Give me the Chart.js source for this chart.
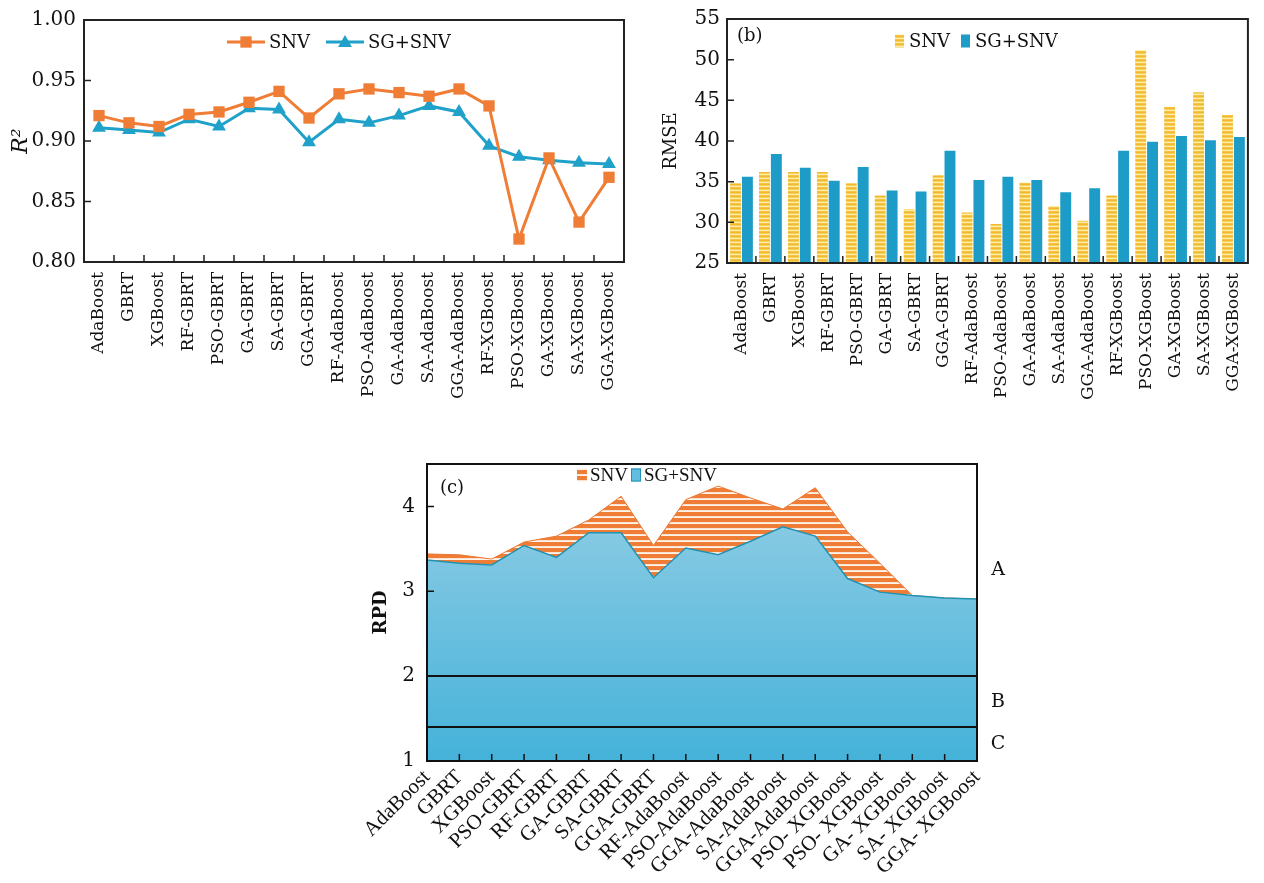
<!DOCTYPE html>
<html>
<head>
<meta charset="utf-8">
<script src="https://cdn.jsdelivr.net/npm/chart.js@4.4.1/dist/chart.umd.min.js"></script>
<style>
  html, body { margin: 0; padding: 0; background: #fff; width: 1264px; height: 883px; overflow: hidden; }
  canvas { position: absolute; }
  #r2Chart { left: 0; top: 0; }
  #rmseChart { left: 640px; top: 0; }
  #rpdChart { left: 340px; top: 440px; }
</style>
</head>
<body>
<canvas id="r2Chart" width="640" height="410"></canvas>
<canvas id="rmseChart" width="624" height="410"></canvas>
<canvas id="rpdChart" width="700" height="443"></canvas>
<script>
// ---- data -------------------------------------------------------------
const models = ['AdaBoost', 'GBRT', 'XGBoost', 'RF-GBRT', 'PSO-GBRT', 'GA-GBRT', 'SA-GBRT', 'GGA-GBRT',
  'RF-AdaBoost', 'PSO-AdaBoost', 'GA-AdaBoost', 'SA-AdaBoost', 'GGA-AdaBoost',
  'RF-XGBoost', 'PSO-XGBoost', 'GA-XGBoost', 'SA-XGBoost', 'GGA-XGBoost'];

const r2SNV   = [0.921, 0.915, 0.912, 0.922, 0.924, 0.932, 0.941, 0.919, 0.939, 0.943, 0.940, 0.937, 0.943, 0.929, 0.819, 0.886, 0.833, 0.870];
const r2SGSNV = [0.911, 0.909, 0.907, 0.918, 0.912, 0.927, 0.926, 0.899, 0.918, 0.915, 0.921, 0.929, 0.924, 0.896, 0.887, 0.884, 0.882, 0.881];
const r2Ticks = [0.80, 0.85, 0.90, 0.95, 1.00];

const rmseSNV   = [34.8, 36.2, 36.2, 36.2, 34.8, 33.3, 31.6, 35.8, 31.2, 29.8, 34.9, 32.0, 30.2, 33.3, 51.2, 44.2, 46.0, 43.2];
const rmseSGSNV = [35.6, 38.4, 36.7, 35.1, 36.8, 33.9, 33.8, 38.8, 35.2, 35.6, 35.2, 33.7, 34.2, 38.8, 39.9, 40.6, 40.1, 40.5];
const rmseTicks = [25, 30, 35, 40, 45, 50, 55];

const rpdModels = ['AdaBoost', 'GBRT', 'XGBoost', 'PSO-GBRT', 'RF-GBRT', 'GA-GBRT', 'SA-GBRT', 'GGA-GBRT',
  'RF-AdaBoost', 'PSO-AdaBoost', 'GGA-AdaBoost', 'SA-AdaBoost', 'GGA-AdaBoost',
  'PSO- XGBoost', 'PSO- XGBoost', 'GA- XGBoost', 'SA- XGBoost', 'GGA- XGBoost'];
const rpdSNV   = [3.44, 3.43, 3.38, 3.58, 3.65, 3.84, 4.12, 3.54, 4.08, 4.24, 4.10, 3.97, 4.22, 3.70, 3.33, 2.95, 2.92, 2.91];
const rpdSGSNV = [3.37, 3.33, 3.31, 3.54, 3.40, 3.69, 3.69, 3.16, 3.51, 3.43, 3.59, 3.76, 3.65, 3.15, 2.99, 2.95, 2.92, 2.91];
const rpdTicks = [1, 2, 3, 4];
const rpdLimits = [2, 1.4];          // class boundaries
const rpdGrades = ['A', 'B', 'C'];   // classes above, between and below them

// ---- styling helpers --------------------------------------------------
const SERIF = '"DejaVu Serif", serif';
const TIMES = '"Liberation Serif", serif';
const INK = '#111';
const ORANGE = '#ef7d36';
const BLUE = '#1fa1c9';
const BAR_BLUE = '#1c9cc6';

Chart.defaults.font.family = SERIF;
Chart.defaults.color = INK;

function stripes(canvasEl, rows) {
  const c = document.createElement('canvas');
  c.width = 4; c.height = rows.length;
  const g = c.getContext('2d');
  rows.forEach((col, i) => { g.fillStyle = col; g.fillRect(0, i, 4, 1); });
  return canvasEl.getContext('2d').createPattern(c, 'repeat');
}

// plot frame, inward tick marks and horizontal reference lines
const framePlugin = {
  id: 'frame',
  afterDatasetsDraw(chart, args, o) {
    const { ctx, chartArea: a } = chart;
    const x = chart.scales.x, y = chart.scales.y;
    ctx.save();
    ctx.strokeStyle = o.color || INK;
    ctx.lineWidth = o.width || 2;
    ctx.beginPath();
    (o.lines || []).forEach(v => {
      const py = Math.round(y.getPixelForValue(v));
      ctx.moveTo(a.left, py); ctx.lineTo(a.right, py);
    });
    ctx.stroke();
    ctx.strokeRect(a.left, a.top, a.right - a.left, a.bottom - a.top);
    ctx.lineWidth = o.tickWidth || 1.5;
    ctx.beginPath();
    const n = x.ticks.length;
    if (o.between) {
      for (let i = 1; i < n; i++) {
        const px = (x.getPixelForTick(i - 1) + x.getPixelForTick(i)) / 2;
        ctx.moveTo(px, a.bottom); ctx.lineTo(px, a.bottom - o.tickLen);
      }
    } else {
      for (let i = 1; i < n - 1; i++) {
        const px = x.getPixelForTick(i);
        ctx.moveTo(px, a.bottom); ctx.lineTo(px, a.bottom - o.tickLen);
      }
    }
    y.ticks.forEach(t => {
      const py = y.getPixelForValue(t.value);
      ctx.moveTo(a.left, py); ctx.lineTo(a.left + o.tickLen, py);
    });
    ctx.stroke();
    ctx.restore();
  }
};

// key drawn inside the plot area, plus the panel tag and side labels
const keyPlugin = {
  id: 'key',
  afterDraw(chart, args, o) {
    const { ctx, chartArea: a } = chart;
    ctx.save();
    ctx.textBaseline = 'middle';
    ctx.textAlign = 'left';
    o.items.forEach((it, i) => {
      const ds = chart.data.datasets[i];
      const cx = a.left + it.x, cy = a.top + o.y;
      let textX;
      if (o.kind === 'line') {
        ctx.strokeStyle = ds.borderColor; ctx.lineWidth = ds.borderWidth;
        ctx.beginPath(); ctx.moveTo(cx, cy); ctx.lineTo(cx + o.iconW, cy); ctx.stroke();
        ctx.fillStyle = ds.pointBackgroundColor;
        Chart.helpers.drawPoint(ctx, { pointStyle: ds.pointStyle, radius: ds.pointRadius, rotation: 0, borderWidth: 0 },
          cx + o.iconW / 2, cy + (ds.pointStyle === 'triangle' ? 1 : 0));
        textX = cx + o.iconW + o.gap;
      } else {
        ctx.fillStyle = it.fill;
        ctx.fillRect(cx, cy - o.boxH / 2, o.boxW, o.boxH);
        if (it.stroke) {
          ctx.strokeStyle = it.stroke; ctx.lineWidth = 1;
          ctx.strokeRect(cx + 0.5, cy - o.boxH / 2 + 0.5, o.boxW - 1, o.boxH - 1);
        }
        textX = cx + o.boxW + o.gap;
      }
      ctx.font = o.font;
      ctx.fillStyle = INK;
      ctx.fillText(ds.label, textX, cy + 1);
    });
    if (o.tag) {
      ctx.font = o.tagFont;
      ctx.fillStyle = INK;
      ctx.fillText(o.tag, a.left + o.tagX, a.top + o.tagY);
    }
    (o.side || []).forEach(s => {
      ctx.font = o.sideFont;
      ctx.textAlign = 'center';
      ctx.fillStyle = INK;
      ctx.fillText(s.text, a.right + o.sideX, chart.scales.y.getPixelForValue(s.value));
    });
    ctx.restore();
  }
};

const noGrid = { display: false, drawTicks: false };
const fixedTicks = list => scale => { scale.ticks = list.map(v => ({ value: v })); };

// ---- (a) R² line chart ------------------------------------------------
new Chart(document.getElementById('r2Chart'), {
  type: 'line',
  data: {
    labels: models,
    datasets: [
      { label: 'SNV', data: r2SNV, borderColor: ORANGE, backgroundColor: ORANGE,
        pointBackgroundColor: ORANGE, pointBorderColor: ORANGE, pointBorderWidth: 0,
        borderWidth: 3, pointStyle: 'rect', pointRadius: 8, tension: 0 },
      { label: 'SG+SNV', data: r2SGSNV, borderColor: BLUE, backgroundColor: BLUE,
        pointBackgroundColor: BLUE, pointBorderColor: BLUE, pointBorderWidth: 0,
        borderWidth: 3, pointStyle: 'triangle', pointRadius: 8, tension: 0 }
    ]
  },
  options: {
    responsive: false, animation: false, events: [], devicePixelRatio: 1,
    layout: { padding: { left: 0, top: 18, right: 16, bottom: 0 } },
    plugins: {
      legend: { display: false }, tooltip: { enabled: false },
      frame: { between: true, tickLen: 7, width: 2, color: '#222' },
      key: { kind: 'line', y: 22, iconW: 38, gap: 4, font: '18px ' + SERIF,
             items: [{ x: 143 }, { x: 242 }] }
    },
    scales: {
      x: { offset: true, grid: noGrid, border: { display: false },
           ticks: { autoSkip: false, minRotation: 90, maxRotation: 90, padding: 10, color: INK,
                    font: { family: SERIF, size: 17 } },
           afterFit: s => { s.height = 148; } },
      y: { min: 0.8, max: 1.0, grid: noGrid, border: { display: false },
           afterBuildTicks: fixedTicks(r2Ticks),
           ticks: { padding: 8, color: INK, font: { family: SERIF, size: 20 }, callback: v => v.toFixed(2) },
           title: { display: true, text: 'R²', color: INK, padding: { top: 8, bottom: 0 },
                    font: { family: SERIF, size: 22, style: 'italic' } },
           afterFit: s => { s.width = 84; } }
    }
  },
  plugins: [framePlugin, keyPlugin]
});

// ---- (b) RMSE grouped bars --------------------------------------------
const rmseCanvas = document.getElementById('rmseChart');
const yellowStripes = stripes(rmseCanvas, ['#f2b834', '#f7d158', '#fdeeae', '#f4c444']);
new Chart(rmseCanvas, {
  type: 'bar',
  data: {
    labels: models,
    datasets: [
      { label: 'SNV', data: rmseSNV, backgroundColor: yellowStripes, borderWidth: 0 },
      { label: 'SG+SNV', data: rmseSGSNV, backgroundColor: BAR_BLUE, borderWidth: 0 }
    ]
  },
  options: {
    responsive: false, animation: false, events: [], devicePixelRatio: 1,
    layout: { padding: { left: 0, top: 16, right: 6, bottom: 0 } },
    datasets: { bar: { categoryPercentage: 0.82, barPercentage: 0.92 } },
    plugins: {
      legend: { display: false }, tooltip: { enabled: false },
      frame: { between: true, tickLen: 7, width: 2, color: '#222' },
      key: { kind: 'box', y: 22, boxW: 9, boxH: 13, gap: 5, font: '18px ' + SERIF,
             items: [{ x: 168, fill: yellowStripes }, { x: 234, fill: BAR_BLUE }],
             tag: '(b)', tagX: 10, tagY: 17, tagFont: '18px ' + SERIF }
    },
    scales: {
      x: { grid: noGrid, border: { display: false },
           ticks: { autoSkip: false, minRotation: 90, maxRotation: 90, padding: 10, color: INK,
                    font: { family: SERIF, size: 17 } },
           afterFit: s => { s.height = 147; } },
      y: { min: 25, max: 55, grid: noGrid, border: { display: false },
           afterBuildTicks: fixedTicks(rmseTicks),
           ticks: { padding: 7, color: INK, font: { family: SERIF, size: 20 } },
           title: { display: true, text: 'RMSE', color: INK, padding: { top: 21, bottom: 0 },
                    font: { family: SERIF, size: 18 } },
           afterFit: s => { s.width = 87; } }
    }
  },
  plugins: [framePlugin, keyPlugin]
});

// ---- (c) RPD areas ----------------------------------------------------
const rpdCanvas = document.getElementById('rpdChart');
const orangeStripes = stripes(rpdCanvas, [ORANGE, ORANGE, ORANGE, ORANGE, '#fbe3d2', '#fff4ec']);
const blueFill = ctx => {
  const a = ctx.chart.chartArea;
  if (!a) return '#6cc0df';
  const g = ctx.chart.ctx.createLinearGradient(0, a.top, 0, a.bottom);
  g.addColorStop(0, '#98d0e6');
  g.addColorStop(1, '#45b2d9');
  return g;
};
new Chart(rpdCanvas, {
  type: 'line',
  data: {
    labels: rpdModels,
    datasets: [
      { label: 'SNV', data: rpdSNV, order: 2, fill: 'start', backgroundColor: orangeStripes,
        borderColor: '#ec7630', borderWidth: 1, pointRadius: 0, tension: 0 },
      { label: 'SG+SNV', data: rpdSGSNV, order: 1, fill: 'start', backgroundColor: blueFill,
        borderColor: '#2292b3', borderWidth: 1.5, pointRadius: 0, tension: 0 }
    ]
  },
  options: {
    responsive: false, animation: false, events: [], devicePixelRatio: 1,
    layout: { padding: { left: 0, top: 23, right: 63, bottom: 0 } },
    plugins: {
      legend: { display: false }, tooltip: { enabled: false },
      frame: { between: false, tickLen: 7, width: 2, color: INK, lines: rpdLimits },
      key: { kind: 'box', y: 11, boxW: 10, boxH: 13, gap: 3, font: '19px ' + TIMES,
             items: [{ x: 150, fill: orangeStripes }, { x: 204, fill: '#62bde0', stroke: '#2292b3' }],
             tag: '(c)', tagX: 13, tagY: 24, tagFont: '18px ' + SERIF,
             sideX: 21, sideFont: '19px ' + SERIF,
             side: [
               { text: rpdGrades[0], value: (rpdLimits[0] + 4.5) / 2 },
               { text: rpdGrades[1], value: (rpdLimits[0] + rpdLimits[1]) / 2 },
               { text: rpdGrades[2], value: (rpdLimits[1] + 1) / 2 }
             ] }
    },
    scales: {
      x: { offset: false, grid: noGrid, border: { display: false },
           ticks: { autoSkip: false, minRotation: 45, maxRotation: 45, padding: 4, color: INK,
                    font: { family: TIMES, size: 21 } },
           afterFit: s => { s.height = 122; } },
      y: { min: 1, max: 4.5, grid: noGrid, border: { display: false },
           afterBuildTicks: fixedTicks(rpdTicks),
           ticks: { padding: 12, color: INK, font: { family: SERIF, size: 20 } },
           title: { display: true, text: 'RPD', color: INK, padding: { top: 31, bottom: 0 },
                    font: { family: SERIF, size: 18, weight: 'bold' } },
           afterFit: s => { s.width = 87; } }
    }
  },
  plugins: [framePlugin, keyPlugin]
});
</script>
</body>
</html>
